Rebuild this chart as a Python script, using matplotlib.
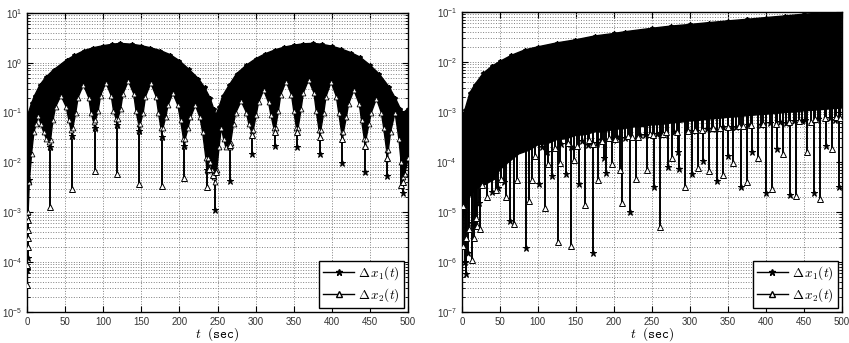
import matplotlib
matplotlib.use('Agg')
import matplotlib.pyplot as plt
import numpy as np
from matplotlib.lines import Line2D
from matplotlib.ticker import NullFormatter, LogLocator

plt.rcParams['mathtext.fontset'] = 'cm'
plt.rcParams['font.family'] = ['Liberation Sans', 'DejaVu Sans']

# ---- left panel: envelopes of the dense oscillation
L_up_t = [0, 2, 6, 10, 17, 25, 35, 52, 62, 75, 87, 100, 112, 122, 138, 150, 162, 175, 188,
          200, 212, 225, 233, 240, 245, 248, 252, 257, 265, 275, 288, 300, 312, 325, 337,
          350, 362, 375, 387, 400, 412, 425, 437, 450, 462, 475, 483, 490, 494, 500]
L_up_v = [0.06, 0.1, 0.155, 0.22, 0.36, 0.52, 0.72, 1.14, 1.4, 1.76, 2.0, 2.2, 2.35, 2.45,
          2.35, 2.2, 2.0, 1.76, 1.45, 1.1, 0.75, 0.48, 0.32, 0.2, 0.12, 0.09, 0.13, 0.22,
          0.35, 0.6, 0.9, 1.2, 1.5, 1.8, 2.05, 2.25, 2.4, 2.45, 2.35, 2.15, 1.9, 1.6, 1.3,
          0.9, 0.6, 0.33, 0.2, 0.12, 0.1, 0.12]

L_lo_t = [0, 1.5, 3, 6, 9, 12, 15, 18, 22, 25.5, 28.5, 29.7, 30.9,
          34, 37.5, 44.5, 51.5, 55, 57.8, 59, 60.2,
          64, 67, 74, 81, 84, 87.4, 88.6, 89.8,
          93.5, 96.5, 103.5, 110.5, 113.5, 116.8, 118, 119.2,
          123, 126, 133, 140, 143, 146.4, 147.6, 148.8,
          152.5, 155.5, 162.5, 169.5, 172.5, 175.8, 177, 178.2,
          182, 185, 191.5, 198, 201.5, 205.3, 206.5, 207.7,
          211.5, 214.5, 221, 227, 230.5, 234.8, 236, 237.2,
          240, 243, 246, 247, 249, 252, 255, 258, 261, 264.8, 266, 267.2,
          271, 274, 281, 288, 291, 294.6, 295.8, 297,
          300.8, 303.8, 310.5, 317, 320, 323.8, 325, 326.2,
          330, 333, 340, 347, 350, 353.5, 354.7, 355.9,
          359.7, 362.7, 369.5, 376.5, 379.5, 383.2, 384.4, 385.6,
          389.4, 392.4, 399, 406, 409, 412.8, 414, 415.2,
          419, 422, 429, 436, 439, 442.6, 443.8, 445,
          448.8, 451.8, 458.5, 465, 468, 471.8, 473, 474.2,
          477, 483, 488, 491, 493, 496, 500]
L_lo_v = [8e-4, 1e-3, 4e-3, 0.015, 0.04, 0.06, 0.085, 0.06, 0.04, 0.03, 0.026, 0.02, 0.028,
          0.07, 0.13, 0.22, 0.13, 0.07, 0.045, 0.034, 0.05,
          0.1, 0.2, 0.36, 0.2, 0.1, 0.065, 0.05, 0.07,
          0.11, 0.22, 0.40, 0.22, 0.11, 0.075, 0.057, 0.075,
          0.12, 0.24, 0.43, 0.24, 0.11, 0.06, 0.042, 0.06,
          0.1, 0.21, 0.39, 0.21, 0.1, 0.048, 0.033, 0.048,
          0.08, 0.14, 0.245, 0.14, 0.07, 0.03, 0.021, 0.03,
          0.05, 0.08, 0.14, 0.08, 0.04, 0.012, 0.007, 0.012,
          0.01, 0.007, 0.005, 0.004, 0.007, 0.02, 0.05, 0.03, 0.02, 0.022, 0.02, 0.025,
          0.06, 0.1, 0.17, 0.1, 0.06, 0.042, 0.035, 0.045,
          0.09, 0.16, 0.28, 0.16, 0.09, 0.05, 0.04, 0.05,
          0.11, 0.23, 0.42, 0.23, 0.11, 0.05, 0.04, 0.05,
          0.12, 0.25, 0.45, 0.25, 0.11, 0.045, 0.033, 0.045,
          0.1, 0.21, 0.41, 0.21, 0.1, 0.04, 0.029, 0.04,
          0.08, 0.15, 0.28, 0.15, 0.07, 0.03, 0.021, 0.03,
          0.06, 0.1, 0.19, 0.1, 0.05, 0.018, 0.012, 0.018,
          0.04, 0.1, 0.03, 0.01, 0.005, 0.006, 0.012]

# spike minima, Delta x1 (stars) and Delta x2 (triangles)
L_x1_t = [0.5, 1.0, 2.0, 29.7, 59, 88.6, 118, 147.6, 177, 206.5, 236, 247, 266, 295.8, 325,
          354.7, 384.4, 414, 443.8, 473, 493]
L_x1_v = [6.8e-5, 1.2e-4, 4.5e-3, 0.02, 0.034, 0.05, 0.057, 0.042, 0.033, 0.021, 0.007,
          1.1e-3, 4.2e-3, 0.015, 0.021, 0.02, 0.015, 9.6e-3, 6.5e-3, 5.4e-3, 2.4e-3]
L_x2_t = [0.3, 0.6, 0.8, 1.0, 1.2, 1.4, 29.7, 59, 88.6, 118, 147.6, 177, 206.5, 236, 238.5,
          244, 248.5, 266, 295.8, 325, 354.7, 384.4, 414, 443.8, 473, 491, 493]
L_x2_v = [3.5e-5, 8.7e-5, 2e-4, 3e-4, 4.4e-4, 6.9e-4, 1.3e-3, 2.9e-3, 6.6e-3, 6e-3, 3.7e-3,
          3.4e-3, 4.8e-3, 3.2e-3, 7.5e-3, 5.5e-3, 6.5e-3, 0.022, 0.035, 0.04, 0.04, 0.033,
          0.029, 0.021, 0.012, 3.5e-3, 4e-3]

# ---- right panel
R_up_t = [0, 1, 2, 4, 10.5, 17, 28, 40, 50, 65, 83, 100, 125, 149, 175, 200, 214, 250, 275,
          300, 325, 350, 375, 400, 425, 450, 475, 500]
R_up_v = [3.8e-4, 7e-4, 9e-4, 1.1e-3, 2.4e-3, 3.5e-3, 5.9e-3, 8.3e-3, 0.0102, 0.0135, 0.0174,
          0.02, 0.024, 0.0275, 0.033, 0.037, 0.04, 0.047, 0.052, 0.056, 0.061, 0.066, 0.071,
          0.077, 0.083, 0.09, 0.095, 0.099]
R_lo_t = [0, 2, 4, 7, 10, 15, 20, 30, 43, 50, 60, 75, 88, 100, 112, 125, 137, 150, 162, 175,
          187, 200, 212, 225, 237, 250, 262, 275, 287, 300, 312, 325, 337, 350, 362, 375,
          387, 400, 412, 425, 437, 450, 462, 475, 487, 500]
R_lo_v = [1e-5, 8e-6, 1.2e-5, 1.5e-5, 2e-5, 2.5e-5, 3e-5, 3.5e-5, 4.5e-5, 7e-5, 9.5e-5,
          1.45e-4, 1.7e-4, 2.2e-4, 2.3e-4, 2.8e-4, 2.9e-4, 3.4e-4, 3.5e-4, 4e-4, 4e-4, 4.5e-4,
          4.6e-4, 5e-4, 5.1e-4, 5.5e-4, 5.6e-4, 6e-4, 6.2e-4, 6.6e-4, 6.8e-4, 7.2e-4, 7.4e-4,
          7.8e-4, 8e-4, 8.4e-4, 8.7e-4, 9e-4, 9.3e-4, 9.7e-4, 1e-3, 1.05e-3, 1.08e-3,
          1.12e-3, 1.16e-3, 1.2e-3]

R_x1_t = [3.5, 5.7, 8, 14, 17, 22, 40, 48, 55, 63, 83.8, 101, 106, 112, 119, 131, 137, 144,
          154, 158, 166, 172, 178, 183, 187, 189, 199, 204, 214, 221, 235, 241, 253, 257, 262,
          271, 279, 284, 285.5, 296, 302.6, 308, 317.5, 322, 329, 335.5, 344, 349.6, 356, 361,
          367.5, 376, 382, 394, 400, 405, 414, 419, 426, 431.6, 437, 447, 452, 463.6, 468,
          479, 484, 491, 496.5]
R_x1_v = [1e-6, 5.8e-7, 1.5e-6, 6e-6, 5.2e-6, 1.5e-5, 2.5e-5, 3e-5, 4e-5, 6.7e-6, 1.9e-6,
          3.7e-5, 2e-4, 1.6e-4, 5.2e-5, 2.3e-4, 5.7e-5, 2e-4, 3.6e-5, 2.6e-4, 2.2e-4, 1.5e-6,
          2.4e-4, 2.8e-4, 1.2e-4, 5.9e-5, 2.8e-4, 3.2e-4, 3e-4, 1e-5, 3.5e-4, 3.4e-4, 3.2e-5,
          3.6e-4, 3.8e-4, 7.8e-5, 3.9e-4, 1.6e-4, 7.1e-5, 4.2e-4, 5.8e-5, 4.2e-4, 1.05e-4,
          4.6e-4, 4.5e-4, 4.2e-5, 4.9e-4, 1.3e-4, 5.1e-4, 5e-4, 3.1e-5, 5.5e-4, 1.6e-4,
          5.5e-4, 2.4e-5, 5.9e-4, 1.8e-4, 6.2e-4, 6e-4, 2.2e-5, 6.5e-4, 6.5e-4, 6.9e-4,
          2.4e-5, 7.3e-4, 2.1e-4, 7.6e-4, 7e-4, 3.1e-5]
R_x2_t = [1, 1.5, 5, 10, 12.7, 16, 18, 20, 23.7, 27, 33, 45, 52, 58, 68.4, 72, 88.6, 91.7, 96,
          109, 113, 123, 126, 129, 140, 143.9, 147, 151, 162, 167, 173, 179, 185, 193, 197,
          202, 208, 211, 218, 224, 228.5, 232, 243, 247, 251, 260.5, 265, 268, 276, 283, 293,
          298, 307, 310.5, 316, 325, 331, 339, 343, 350, 357, 364, 370, 374.6, 380, 389, 396,
          407.5, 413, 422, 430, 439, 444, 453.5, 459, 465, 471, 478, 486.4, 492, 498]
R_x2_v = [2.1e-6, 1.3e-5, 3e-6, 4.5e-6, 1.1e-6, 3e-6, 7.7e-6, 5.3e-6, 4.5e-6, 3.5e-5, 2e-5,
          2.8e-5, 4.5e-5, 2e-5, 5.7e-6, 4.4e-5, 1.66e-5, 4.4e-5, 1.3e-4, 1.2e-5, 8.9e-5,
          1.9e-4, 2.5e-6, 9.4e-5, 2.4e-4, 2.1e-6, 1.07e-4, 2.1e-4, 1.35e-5, 2.7e-4, 2.3e-4,
          4.4e-5, 2.6e-4, 3e-4, 8.9e-5, 2.9e-4, 7e-5, 1.5e-5, 3.3e-4, 3.1e-4, 4.5e-5, 3.2e-4,
          6.9e-5, 3.6e-4, 3.5e-4, 5.1e-6, 3.7e-4, 4e-4, 1.2e-4, 4e-4, 3.1e-5, 4.1e-4, 4.4e-4,
          7.4e-5, 4.4e-4, 6.6e-5, 4.7e-4, 4.8e-4, 5.5e-5, 5e-4, 9.4e-5, 5.3e-4, 5.2e-4,
          3.9e-5, 5.6e-4, 1.2e-4, 5.8e-4, 2.9e-5, 5.8e-4, 1.45e-4, 6.4e-4, 2.1e-5, 6.7e-4,
          1.6e-4, 6.2e-4, 7.1e-4, 1.8e-5, 7.5e-4, 1.8e-4, 7.8e-4, 7.5e-4]


def panel(ax, up_t, up_v, lo_t, lo_v, x1_t, x1_v, x2_t, x2_v, ylim, edge_marks):
    up_t, up_v = np.array(up_t), np.array(up_v)
    # solid band of the oscillation
    ax.fill(np.r_[up_t, lo_t[::-1]], np.r_[up_v, lo_v[::-1]], color='k', lw=1.0, zorder=2)
    ax.plot(up_t, up_v, 'k*', ms=3, zorder=3)
    if edge_marks:
        ax.plot(lo_t, lo_v, 'k^', ms=3.5, mfc='white', mew=0.6, zorder=3)
    # spikes down to the local minima
    for tt, vv, mk, fc in [(x1_t, x1_v, '*', 'k'), (x2_t, x2_v, '^', 'white')]:
        tt = np.array(tt)
        top = 10 ** np.interp(tt, up_t, np.log10(up_v)) * 0.8
        ax.vlines(tt, vv, top, color='k', lw=1.4, zorder=2)
        ax.plot(tt, vv, 'k' + mk, ms=4.5, mfc=fc, mew=0.7, ls='none', zorder=4)
    ax.set_yscale('log')
    ax.set_xlim(0, 500)
    ax.set_ylim(*ylim)
    lo, hi = np.log10(ylim)
    ax.set_yticks(10.0 ** np.arange(lo, hi + 1))
    ax.yaxis.set_minor_locator(LogLocator(base=10, subs=np.arange(2, 10)))
    ax.yaxis.set_minor_formatter(NullFormatter())
    ax.set_xticks(np.arange(0, 501, 50))
    ax.grid(True, which='major', ls=':', color='0.5', lw=0.7)
    ax.grid(True, which='minor', axis='y', ls=':', color='0.5', lw=0.7)
    ax.set_axisbelow(True)
    ax.tick_params(which='both', direction='in', top=True, right=True, labelsize=7,
                   labelcolor='0.2')
    ax.tick_params(which='major', length=4)
    ax.tick_params(which='minor', length=2)
    for s in ax.spines.values():
        s.set_linewidth(1.0)
    ax.set_xlabel(r'$t\ \ \mathtt{(sec)}$', fontsize=9.5, labelpad=-1)
    handles = [Line2D([], [], color='k', marker='*', ms=5, lw=1),
               Line2D([], [], color='k', marker='^', ms=5, mfc='white', lw=1)]
    leg = ax.legend(handles, [r'$\Delta\,x_1(t)$', r'$\Delta\,x_2(t)$'], loc='lower right',
                    fontsize=9.5, fancybox=False, edgecolor='k', framealpha=1,
                    borderaxespad=0.3, handlelength=2.4, borderpad=0.3, labelspacing=0.3,
                    handletextpad=0.3)
    leg.get_frame().set_linewidth(1.0)
    leg.set_zorder(10)


fig = plt.figure(figsize=(8.49, 3.43), dpi=100)
ax1 = fig.add_axes([0.0318, 0.0904, 0.4488, 0.872])
ax2 = fig.add_axes([0.544, 0.0904, 0.4476, 0.875])

panel(ax1, L_up_t, L_up_v, L_lo_t, L_lo_v, L_x1_t, L_x1_v, L_x2_t, L_x2_v, (1e-5, 10), True)
panel(ax2, R_up_t, R_up_v, R_lo_t, R_lo_v, R_x1_t, R_x1_v, R_x2_t, R_x2_v, (1e-7, 1e-1), False)

fig.savefig('out.png', dpi=100)
